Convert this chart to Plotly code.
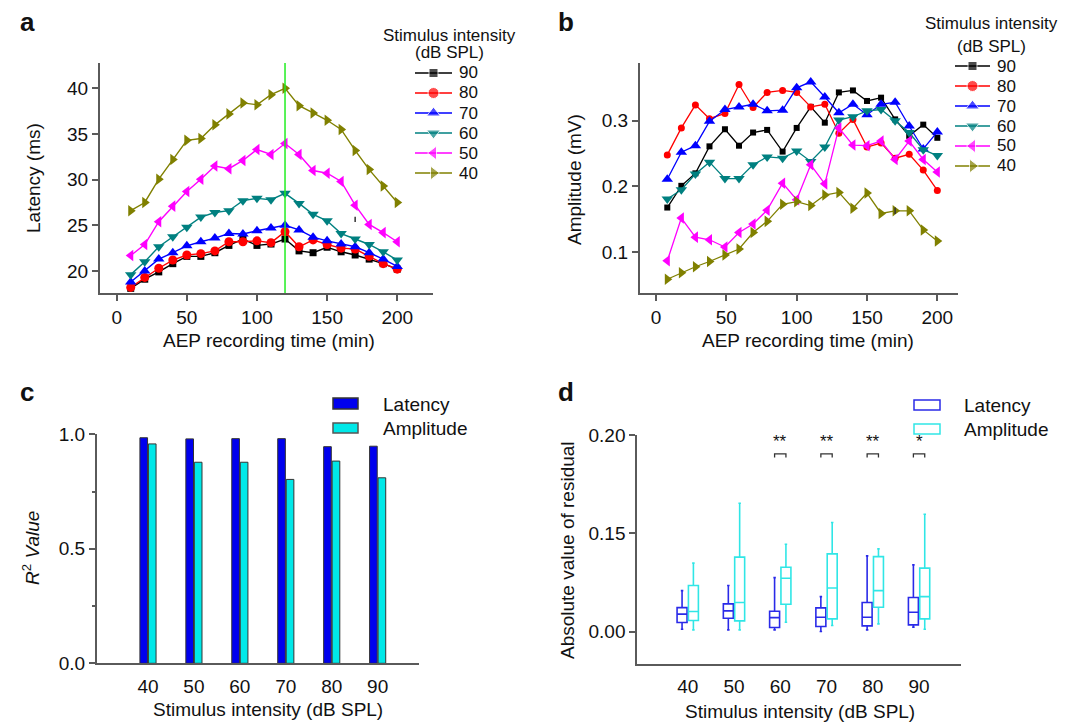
import plotly.graph_objects as go

W, H = 1079, 723
FONT = "Arial, Liberation Sans, sans-serif"
TXT = "#111111"
AX = "#5a5a5a"


def px(x):
    return x / W


def py(y):
    return 1 - y / H


# ---- data: latency (ms) vs recording time ----
time_a = [10, 20, 30, 40, 50, 60, 70, 80, 90, 100,
          110, 120, 130, 140, 150, 160, 170, 180, 190, 200]
lat_90 = [18.1, 19.1, 19.9, 20.8, 21.6, 21.6, 22.0, 22.8, 23.5, 22.8,
          22.95, 23.5, 22.2, 22.0, 22.6, 22.1, 21.75, 21.3, 20.8, 20.2]
lat_80 = [18.2, 19.3, 20.3, 21.2, 21.75, 21.9, 22.2, 23.2, 23.2, 23.3,
          23.1, 24.3, 22.65, 23.4, 22.9, 22.5, 22.4, 21.6, 20.8, 20.2]
lat_70 = [18.8, 20.0, 21.3, 22.0, 22.75, 23.2, 23.6, 24.1, 24.05, 24.4,
          24.7, 25.0, 24.5, 23.7, 23.3, 22.95, 22.65, 22.0, 21.3, 20.5]
lat_60 = [19.6, 21.0, 22.65, 23.75, 24.8, 25.9, 26.4, 26.6, 27.7, 27.95,
          27.8, 28.5, 27.4, 26.2, 25.5, 24.1, 23.5, 22.9, 22.1, 21.2]
lat_50 = [21.7, 22.9, 25.4, 27.1, 28.7, 30.05, 31.5, 31.2, 32.1, 33.3,
          32.75, 33.95, 32.75, 31.0, 30.7, 29.8, 27.2, 25.1, 24.2, 23.2]
lat_40 = [26.6, 27.5, 30.05, 32.2, 34.3, 34.5, 36.0, 37.2, 38.4, 38.2,
          39.3, 40.0, 38.1, 37.3, 36.5, 35.5, 33.2, 31.1, 29.3, 27.5]

# ---- data: amplitude (mV) vs recording time ----
time_b = [8, 18, 28, 38, 49, 59, 69, 79, 90, 100,
          110, 120, 130, 140, 150, 160, 170, 180, 190, 200]
amp_90 = [0.168, 0.201, 0.220, 0.261, 0.287, 0.262, 0.282, 0.286, 0.253, 0.289,
          0.321, 0.297, 0.343, 0.346, 0.330, 0.335, 0.302, 0.277, 0.294, 0.274]
amp_80 = [0.248, 0.289, 0.324, 0.303, 0.311, 0.355, 0.320, 0.343, 0.346, 0.343,
          0.321, 0.325, 0.281, 0.302, 0.260, 0.266, 0.243, 0.249, 0.225, 0.194]
amp_70 = [0.211, 0.252, 0.262, 0.299, 0.317, 0.321, 0.325, 0.315, 0.316, 0.350,
          0.359, 0.336, 0.312, 0.325, 0.309, 0.325, 0.328, 0.292, 0.257, 0.283]
amp_60 = [0.181, 0.195, 0.219, 0.237, 0.212, 0.212, 0.233, 0.245, 0.243, 0.254,
          0.238, 0.260, 0.301, 0.306, 0.315, 0.317, 0.300, 0.282, 0.256, 0.247]
amp_50 = [0.087, 0.152, 0.123, 0.119, 0.108, 0.130, 0.143, 0.164, 0.205, 0.180,
          0.233, 0.204, 0.289, 0.263, 0.262, 0.269, 0.241, 0.269, 0.241, 0.222]
amp_40 = [0.059, 0.069, 0.078, 0.086, 0.096, 0.105, 0.130, 0.147, 0.173, 0.177,
          0.171, 0.187, 0.191, 0.167, 0.190, 0.159, 0.163, 0.163, 0.134, 0.117]

# ---- data: R^2 of the fits ----
intensity = [40, 50, 60, 70, 80, 90]
r2_latency = [0.985, 0.980, 0.981, 0.981, 0.946, 0.948]
r2_amplitude = [0.958, 0.878, 0.878, 0.803, 0.883, 0.810]

# ---- data: |residual| box statistics ----
lat_low = [0.0024, 0.0017, 0.0017, 0.0000, 0.0017, 0.0045]
lat_q1 = [0.0092, 0.0136, 0.0041, 0.0051, 0.0058, 0.0068]
lat_med = [0.0177, 0.0211, 0.0142, 0.0146, 0.0146, 0.0197]
lat_q3 = [0.0244, 0.0282, 0.0207, 0.0241, 0.0295, 0.0346]
lat_high = [0.0417, 0.0468, 0.0549, 0.0356, 0.0770, 0.0679]

amp_low = [0.0017, 0.0017, 0.0095, 0.0061, 0.0078, 0.0024]
amp_q1 = [0.0112, 0.0109, 0.0278, 0.0129, 0.0248, 0.0129]
amp_med = [0.0204, 0.0295, 0.0543, 0.0444, 0.0417, 0.0356]
amp_q3 = [0.0468, 0.0757, 0.0655, 0.0790, 0.0763, 0.0645]
amp_high = [0.0696, 0.1306, 0.0889, 0.1109, 0.0841, 0.1194]

sig_marks = ["", "", "**", "**", "**", "*"]

levels = ["90", "80", "70", "60", "50", "40"]
colors = ["#000000", "#FF0000", "#0000FF", "#008080", "#FF00FF", "#808000"]
symbols = ["square", "circle", "triangle-up", "triangle-down",
           "triangle-left", "triangle-right"]
msize_a = [7, 9, 10, 10, 10, 10]
msize_b = [6, 7, 10, 10, 10, 10]
lat_series = [lat_90, lat_80, lat_70, lat_60, lat_50, lat_40]
amp_series = [amp_90, amp_80, amp_70, amp_60, amp_50, amp_40]

fig = go.Figure()

for lev, col, sym, ms, ys in zip(levels, colors, symbols, msize_a, lat_series):
    fig.add_trace(go.Scatter(
        x=time_a, y=ys, name=lev, mode="lines+markers",
        line=dict(color=col, width=1.4),
        marker=dict(symbol=sym, size=ms, color=col),
        xaxis="x", yaxis="y", showlegend=False))

for lev, col, sym, ms, ys in zip(levels, colors, symbols, msize_b, amp_series):
    fig.add_trace(go.Scatter(
        x=time_b, y=ys, name=lev, mode="lines+markers",
        line=dict(color=col, width=1.3),
        marker=dict(symbol=sym, size=ms, color=col),
        xaxis="x2", yaxis="y2", showlegend=False))

LAT_BAR = "#0000EE"
AMP_BAR = "#00E8E8"
fig.add_trace(go.Bar(x=intensity, y=r2_latency, name="Latency",
                     marker=dict(color=LAT_BAR, line=dict(color="#333333", width=1)),
                     xaxis="x3", yaxis="y3", showlegend=False))
fig.add_trace(go.Bar(x=intensity, y=r2_amplitude, name="Amplitude",
                     marker=dict(color=AMP_BAR, line=dict(color="#333333", width=1)),
                     xaxis="x3", yaxis="y3", showlegend=False))

LAT_BOX = "#2a2ae8"
AMP_BOX = "#30E6E6"
fig.add_trace(go.Box(x=intensity, q1=lat_q1, median=lat_med, q3=lat_q3,
                     lowerfence=lat_low, upperfence=lat_high, name="Latency",
                     line=dict(color=LAT_BOX, width=1.6), fillcolor="rgba(0,0,0,0)",
                     whiskerwidth=0.25, boxpoints=False, offsetgroup="lat",
                     xaxis="x4", yaxis="y4", showlegend=False))
fig.add_trace(go.Box(x=intensity, q1=amp_q1, median=amp_med, q3=amp_q3,
                     lowerfence=amp_low, upperfence=amp_high, name="Amplitude",
                     line=dict(color=AMP_BOX, width=1.6), fillcolor="rgba(0,0,0,0)",
                     whiskerwidth=0.25, boxpoints=False, offsetgroup="amp",
                     xaxis="x4", yaxis="y4", showlegend=False))

# legend keys for the two line panels, drawn on a pixel-scaled overlay axis
annotations = []


def label(x, y, text, size=19, angle=0, xanchor="center", bold=False):
    t = f"<b>{text}</b>" if bold else text
    annotations.append(dict(x=px(x), y=py(y), xref="paper", yref="paper", text=t,
                            showarrow=False, textangle=angle, xanchor=xanchor,
                            yanchor="middle", font=dict(family=FONT, size=size, color=TXT)))


def line_legend(x0, x1, row0, step, title_x, title_rows, sizes):
    label(title_x, title_rows[0], "Stimulus intensity", size=17)
    label(title_x, title_rows[1], "(dB SPL)", size=17)
    xm = (x0 + x1) / 2
    for i, (lev, col, sym, ms) in enumerate(zip(levels, colors, symbols, sizes)):
        yy = row0 + i * step
        fig.add_trace(go.Scatter(
            x=[x0, xm, x1], y=[yy, yy, yy], mode="lines+markers",
            line=dict(color=col, width=1.4),
            marker=dict(symbol=sym, size=[0, ms + 2, 0], color=col),
            xaxis="x5", yaxis="y5", showlegend=False, hoverinfo="skip"))
        label(x1 + 5, yy, lev, size=17, xanchor="left")


line_legend(415, 452, 73, 20, 449, (35, 53), msize_a)
line_legend(955, 990, 66, 20, 991, (24, 46), msize_a)

tickfont = dict(family=FONT, size=19, color=TXT)
common = dict(showgrid=False, zeroline=False, showline=True, linecolor=AX,
              linewidth=2, tickfont=tickfont, tickcolor=AX, tickwidth=1.5)

BOXGAP = 0.51
BOXGROUPGAP = 0.12

fig.update_layout(
    width=W, height=H, margin=dict(l=0, r=0, t=0, b=0, autoexpand=False),
    paper_bgcolor="white", plot_bgcolor="rgba(0,0,0,0)",
    font=dict(family=FONT, color=TXT), showlegend=False,
    barmode="group", bargap=0.63, bargroupgap=0.1,
    boxmode="group", boxgap=BOXGAP, boxgroupgap=BOXGROUPGAP,
    xaxis=dict(domain=[px(100), px(433)], anchor="y", range=[-11.9, 225.5],
               tickvals=[0, 50, 100, 150, 200], ticks="outside", ticklen=6, **common),
    yaxis=dict(domain=[py(293), py(63)], anchor="x", range=[17.59, 42.77],
               tickvals=[20, 25, 30, 35, 40], ticks="outside", ticklen=6, **common),
    xaxis2=dict(domain=[px(640), px(958)], anchor="y2", range=[-11.4, 214.7],
                tickvals=[0, 50, 100, 150, 200], ticks="outside", ticklen=6, **common),
    yaxis2=dict(domain=[py(293), py(63)], anchor="x2", range=[0.0381, 0.3877],
                tickvals=[0.1, 0.2, 0.3], ticks="outside", ticklen=6, **common),
    xaxis3=dict(domain=[px(97), px(419)], anchor="y3", range=[28.9, 99.0],
                tickvals=intensity, ticks="outside", ticklen=5,
                **{**common, "tickcolor": "rgba(0,0,0,0)"}),
    yaxis3=dict(domain=[py(663.3), py(434.3)], anchor="x3", range=[0, 1.0],
                tickvals=[0, 0.5, 1.0], tickformat=".1f", ticks="outside", ticklen=6,
                minor=dict(tickvals=[0.25, 0.75], ticks="outside", ticklen=3,
                           tickcolor=AX), **common),
    xaxis4=dict(domain=[px(637.3), px(960.7)], anchor="y4", range=[29.1, 99.0],
                tickvals=intensity, ticks="outside", ticklen=4,
                **{**common, "tickcolor": "rgba(0,0,0,0)"}),
    yaxis4=dict(domain=[py(664), py(435)], anchor="x4", range=[-0.033, 0.2],
                tickvals=[0, 0.1, 0.2], ticktext=["0.00", "0.15", "0.20"],
                ticks="outside", ticklen=6, **common),
    xaxis5=dict(domain=[0, 1], anchor="y5", range=[0, W], visible=False, fixedrange=True),
    yaxis5=dict(domain=[0, 1], anchor="x5", range=[H, 0], visible=False, fixedrange=True),
)

shapes = []
# reference time marker in panel a
shapes.append(dict(type="line", xref="x", yref="y domain", x0=120, x1=120, y0=0, y1=1,
                   line=dict(color="#22EE22", width=1.5)))
# small stray error ticks at 170 min
shapes.append(dict(type="line", xref="x", yref="y", x0=170, x1=170, y0=25.35, y1=25.95,
                   line=dict(color="#333333", width=1.5)))
shapes.append(dict(type="line", xref="x2", yref="y2", x0=170, x1=170, y0=0.158, y1=0.168,
                   line=dict(color="#333333", width=1.5)))

# significance brackets between paired boxes
half = 10 * (1 - BOXGAP) / 4
for xv, mark in zip(intensity, sig_marks):
    if not mark:
        continue
    x0, x1 = xv - half, xv + half
    shapes.append(dict(type="path", xref="x4", yref="y4",
                       path=f"M {x0},0.1770 L {x0},0.1808 L {x1},0.1808 L {x1},0.1770",
                       line=dict(color="#333333", width=1.3)))
    annotations.append(dict(x=xv, y=0.1815, xref="x4", yref="y4", text=mark,
                            showarrow=False, yanchor="bottom",
                            font=dict(family=FONT, size=17, color=TXT)))


# hand-drawn legends for the bar and box panels
def legend_rect(x0, y0, x1, y1, fill, line_col):
    shapes.append(dict(type="rect", xref="paper", yref="paper",
                       x0=px(x0), x1=px(x1), y0=py(y1), y1=py(y0),
                       fillcolor=fill, line=dict(color=line_col, width=1.5)))


legend_rect(333, 398, 358, 409, LAT_BAR, "#333333")
legend_rect(333, 423, 358, 433, AMP_BAR, "#555555")
legend_rect(914, 400, 940, 410, "rgba(0,0,0,0)", LAT_BOX)
legend_rect(914, 424, 940, 434, "rgba(0,0,0,0)", AMP_BOX)

label(381, 404, "Latency", xanchor="left")
label(381, 428, "Amplitude", xanchor="left")
label(962, 405, "Latency", xanchor="left")
label(962, 429, "Amplitude", xanchor="left")

label(33, 178, "Latency (ms)", angle=-90)
label(574, 180, "Amplitude (mV)", angle=-90)
label(31, 548, "<i>R</i><sup>2</sup> <i>Value</i>", angle=-90)
label(567, 550, "Absolute value of residual", angle=-90)
label(269, 340, "AEP recording time (min)")
label(808, 340, "AEP recording time (min)")
label(268, 709, "Stimulus intensity (dB SPL)")
label(800, 711, "Stimulus intensity (dB SPL)")

label(18, 22, "a", size=26, xanchor="left", bold=True)
label(556, 22, "b", size=26, xanchor="left", bold=True)
label(18, 392, "c", size=26, xanchor="left", bold=True)
label(556, 392, "d", size=26, xanchor="left", bold=True)

fig.update_layout(shapes=shapes, annotations=annotations)
fig.write_html("out.html")
